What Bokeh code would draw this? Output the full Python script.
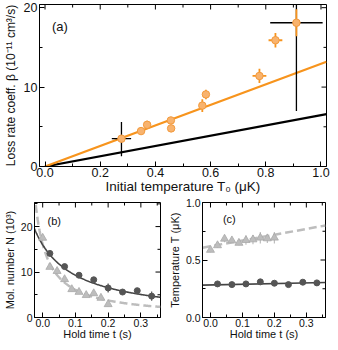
import numpy as np
from bokeh.plotting import figure
from bokeh.layouts import column, row
from bokeh.models import Range1d, FixedTicker, Label, PrintfTickFormatter
from bokeh.embed import file_html
from bokeh.resources import INLINE

FONT = "Liberation Sans"

# ---------------- Panel (a) data ----------------
T0 = [0.277, 0.348, 0.370, 0.456, 0.457, 0.570, 0.583, 0.777, 0.835, 0.911]
beta = [3.5, 4.46, 5.25, 5.8, 4.8, 7.67, 9.08, 11.4, 15.9, 18.1]
T0_err = [0.0, 0.0, 0.0, 0.0, 0.0, 0.01, 0.0, 0.025, 0.025, 0.0]
beta_err = [0.3, 0.0, 0.5, 0.3, 0.0, 0.8, 0.6, 0.9, 0.9, 1.7]
# black error crosses
bk_T0 = [0.277, 0.911]
bk_beta = [3.5, 18.1]
bk_T0_err = [0.035, 0.095]
bk_beta_lo = [1.3, 7.0]
bk_beta_hi = [5.6, 29.0]
# straight model lines
line_T0 = [0.0, 1.02]
line_orange = [0.0, 13.2]
line_black = [0.0, 6.6]
a_xticks = [0, 0.2, 0.4, 0.6, 0.8, 1.0]
a_xminor = [0.1, 0.3, 0.5, 0.7, 0.9]
a_yticks = [0, 10, 20]
a_yminor = [5, 15]

# ---------------- Panel (b)/(c) data ----------------
t_circ = [0.022, 0.067, 0.111, 0.156, 0.200, 0.244, 0.289, 0.333]
N_circ = [14.1, 11.2, 9.3, 8.3, 6.5, 5.6, 5.9, 4.7]
N_circ_err = [0.4, 0.4, 0.3, 0.4, 1.0, 0.4, 0.4, 1.0]
t_tri = [0.0, 0.022, 0.044, 0.067, 0.089, 0.111, 0.133, 0.156, 0.178, 0.200]
N_tri = [17.5, 11.1, 10.2, 8.4, 6.2, 5.6, 4.9, 5.3, 4.3, 2.9]
N_tri_err = [0.4, 0.4, 0.4, 0.4, 0.4, 0.4, 0.4, 0.4, 0.4, 0.4]
T_circ = [0.292, 0.286, 0.292, 0.310, 0.298, 0.286, 0.307, 0.301]
T_circ_err = [0.01, 0.01, 0.01, 0.01, 0.01, 0.01, 0.01, 0.01]
T_tri = [0.587, 0.627, 0.684, 0.669, 0.648, 0.672, 0.678, 0.693, 0.687, 0.693]
T_tri_err = [0.02, 0.02, 0.03, 0.02, 0.02, 0.04, 0.04, 0.05, 0.04, 0.05]
# fit parameters: 1/N = a + k t
fit_solid_a, fit_solid_k = 0.0625, 0.45
fit_dash_a, fit_dash_k = 0.062, 1.02
# temperature fit lines (end points)
tline = [-0.025, 0.36]
T_solid = [0.2815, 0.305]
T_dash = [0.607, 0.800]
t_ticks = [0, 0.1, 0.2, 0.3]
t_minor = [0.05, 0.15, 0.25, 0.35]
b_yticks = [0, 10, 20]
b_yminor = [5, 15, 25]
c_yticks = [0, 0.5, 1.0]
c_yminor = [0.25, 0.75]

ORANGE = "#F7941D"
ORANGE_PT = "#F8B36E"
ORANGE_EDGE = "#F39A3C"
DARK = "#555555"
LIGHT = "#BDBDBD"
LIGHT_EDGE = "#A9A9A9"
INK = "#111111"


def style(p, xticks, xminor, yticks, yminor, tick_fs, label_fs, xfmt, yfmt):
    p.xgrid.visible = False
    p.ygrid.visible = False
    p.outline_line_color = "black"
    p.outline_line_width = 1
    p.background_fill_color = "white"
    p.border_fill_color = "white"
    xa = p.xaxis[0]
    ya = p.yaxis[0]
    xa.ticker = FixedTicker(ticks=xticks, minor_ticks=xminor)
    xa.formatter = PrintfTickFormatter(format=xfmt)
    ya.ticker = FixedTicker(ticks=yticks, minor_ticks=yminor)
    ya.formatter = PrintfTickFormatter(format=yfmt)
    for ax in [xa, ya]:
        ax.major_tick_in = 5
        ax.major_tick_out = 0
        ax.minor_tick_in = 3
        ax.minor_tick_out = 0
        ax.axis_line_color = "black"
        ax.major_tick_line_color = "black"
        ax.minor_tick_line_color = "black"
        ax.major_label_text_font = FONT
        ax.major_label_text_font_size = tick_fs
        ax.major_label_text_color = INK
        ax.axis_label_text_font = FONT
        ax.axis_label_text_font_size = label_fs
        ax.axis_label_text_font_style = "normal"
        ax.axis_label_text_color = INK
        ax.major_label_standoff = 2
    # mirrored inward ticks on the top and right edges
    x1 = p.x_range.end
    y1 = p.y_range.end
    p.ray(x=xticks, y=[y1] * len(xticks), length=5, angle=-np.pi / 2,
          length_units="screen", line_color="black", line_width=1)
    p.ray(x=xminor, y=[y1] * len(xminor), length=3, angle=-np.pi / 2,
          length_units="screen", line_color="black", line_width=1)
    p.ray(x=[x1] * len(yticks), y=yticks, length=5, angle=np.pi,
          length_units="screen", line_color="black", line_width=1)
    p.ray(x=[x1] * len(yminor), y=yminor, length=3, angle=np.pi,
          length_units="screen", line_color="black", line_width=1)


# ---------------- Panel (a) ----------------
pa = figure(width=330, height=196, output_backend="svg", toolbar_location=None,
            x_range=Range1d(-0.02, 1.02), y_range=Range1d(0, 20.4),
            min_border_left=34, min_border_right=4, min_border_top=4, min_border_bottom=30)
style(pa, a_xticks, a_xminor, a_yticks, a_yminor, "12.5px", "13.5px", "%.1f", "%d")
pa.xaxis[0].axis_label = "Initial temperature T₀ (μK)"
pa.yaxis[0].axis_label = "Loss rate coeff. β (10⁻¹¹ cm³/s)"
pa.yaxis[0].axis_label_text_font_size = "12px"
pa.xaxis[0].major_label_standoff = 1
pa.xaxis[0].axis_label_standoff = -1
pa.yaxis[0].axis_label_standoff = 3

pa.line(line_T0, line_black, line_color="black", line_width=2.2)
pa.line(line_T0, line_orange, line_color=ORANGE, line_width=2.2)
# black crosses
pa.segment(x0=[x - e for x, e in zip(bk_T0, bk_T0_err)], x1=[x + e for x, e in zip(bk_T0, bk_T0_err)],
           y0=bk_beta, y1=bk_beta, line_color="black", line_width=1.3)
pa.segment(x0=bk_T0, x1=bk_T0, y0=bk_beta_lo, y1=bk_beta_hi, line_color="black", line_width=1.3)
# orange error bars
pa.segment(x0=[x - e for x, e in zip(T0, T0_err)], x1=[x + e for x, e in zip(T0, T0_err)],
           y0=beta, y1=beta, line_color=ORANGE, line_width=1.8)
pa.segment(x0=T0, x1=T0, y0=[y - e for y, e in zip(beta, beta_err)], y1=[y + e for y, e in zip(beta, beta_err)],
           line_color=ORANGE, line_width=1.8)
pa.scatter(T0, beta, size=7.5, fill_color=ORANGE_PT, line_color=ORANGE_EDGE, line_width=1)
pa.add_layout(Label(x=0.025, y=17.6, text="(a)", text_font=FONT, text_font_size="13px",
                    text_baseline="middle", text_color=INK))

# ---------------- Panel (b) ----------------
pb = figure(width=165, height=146, output_backend="svg", toolbar_location=None,
            x_range=Range1d(-0.025, 0.36), y_range=Range1d(0, 25.3),
            min_border_left=34, min_border_right=5, min_border_top=6, min_border_bottom=24)
style(pb, t_ticks, t_minor, b_yticks, b_yminor, "10.5px", "11px", "%.1f", "%d")
pb.xaxis[0].axis_label = "Hold time t (s)"
pb.yaxis[0].axis_label = "Mol. number N (10³)"
pb.xaxis[0].major_label_standoff = 1
pb.xaxis[0].axis_label_standoff = -2
pb.yaxis[0].axis_label_standoff = 2

tt = np.linspace(-0.025, 0.36, 200)
pb.line(tt, 1.0 / (fit_dash_a + fit_dash_k * tt), line_color=LIGHT, line_width=2.5, line_dash="8 4")
pb.line(tt, 1.0 / (fit_solid_a + fit_solid_k * tt), line_color="#444444", line_width=1.6)
pb.segment(x0=t_tri, x1=t_tri, y0=[y - e for y, e in zip(N_tri, N_tri_err)],
           y1=[y + e for y, e in zip(N_tri, N_tri_err)], line_color=LIGHT, line_width=1.2)
pb.scatter(t_tri, N_tri, marker="triangle", size=8, fill_color=LIGHT, line_color=LIGHT_EDGE, line_width=0.8)
pb.segment(x0=t_circ, x1=t_circ, y0=[y - e for y, e in zip(N_circ, N_circ_err)],
           y1=[y + e for y, e in zip(N_circ, N_circ_err)], line_color=DARK, line_width=1.2)
pb.scatter(t_circ, N_circ, size=6, fill_color=DARK, line_color=DARK)
pb.add_layout(Label(x=0.015, y=21.3, text="(b)", text_font=FONT, text_font_size="11px",
                    text_baseline="middle", text_color=INK))

# ---------------- Panel (c) ----------------
pc = figure(width=165, height=146, output_backend="svg", toolbar_location=None,
            x_range=Range1d(-0.025, 0.36), y_range=Range1d(0, 1.0),
            min_border_left=34, min_border_right=5, min_border_top=6, min_border_bottom=24)
style(pc, t_ticks, t_minor, c_yticks, c_yminor, "10.5px", "11px", "%.1f", "%.1f")
pc.xaxis[0].axis_label = "Hold time t (s)"
pc.yaxis[0].axis_label = "Temperature T (μK)"
pc.xaxis[0].major_label_standoff = 1
pc.xaxis[0].axis_label_standoff = -2
pc.yaxis[0].axis_label_standoff = 2

pc.line(tline, T_dash, line_color=LIGHT, line_width=2.5, line_dash="8 4")
pc.line(tline, T_solid, line_color="#444444", line_width=1.6)
pc.segment(x0=t_tri, x1=t_tri, y0=[y - e for y, e in zip(T_tri, T_tri_err)],
           y1=[y + e for y, e in zip(T_tri, T_tri_err)], line_color=LIGHT, line_width=1.2)
pc.scatter(t_tri, T_tri, marker="triangle", size=8, fill_color=LIGHT, line_color=LIGHT_EDGE, line_width=0.8)
pc.segment(x0=t_circ, x1=t_circ, y0=[y - e for y, e in zip(T_circ, T_circ_err)],
           y1=[y + e for y, e in zip(T_circ, T_circ_err)], line_color=DARK, line_width=1.2)
pc.scatter(t_circ, T_circ, size=6, fill_color=DARK, line_color=DARK)
pc.add_layout(Label(x=0.039, y=0.857, text="(c)", text_font=FONT, text_font_size="11px",
                    text_baseline="middle", text_color=INK))

layout = column(pa, row(pb, pc))
open("out.html", "w").write(file_html(layout, INLINE))
